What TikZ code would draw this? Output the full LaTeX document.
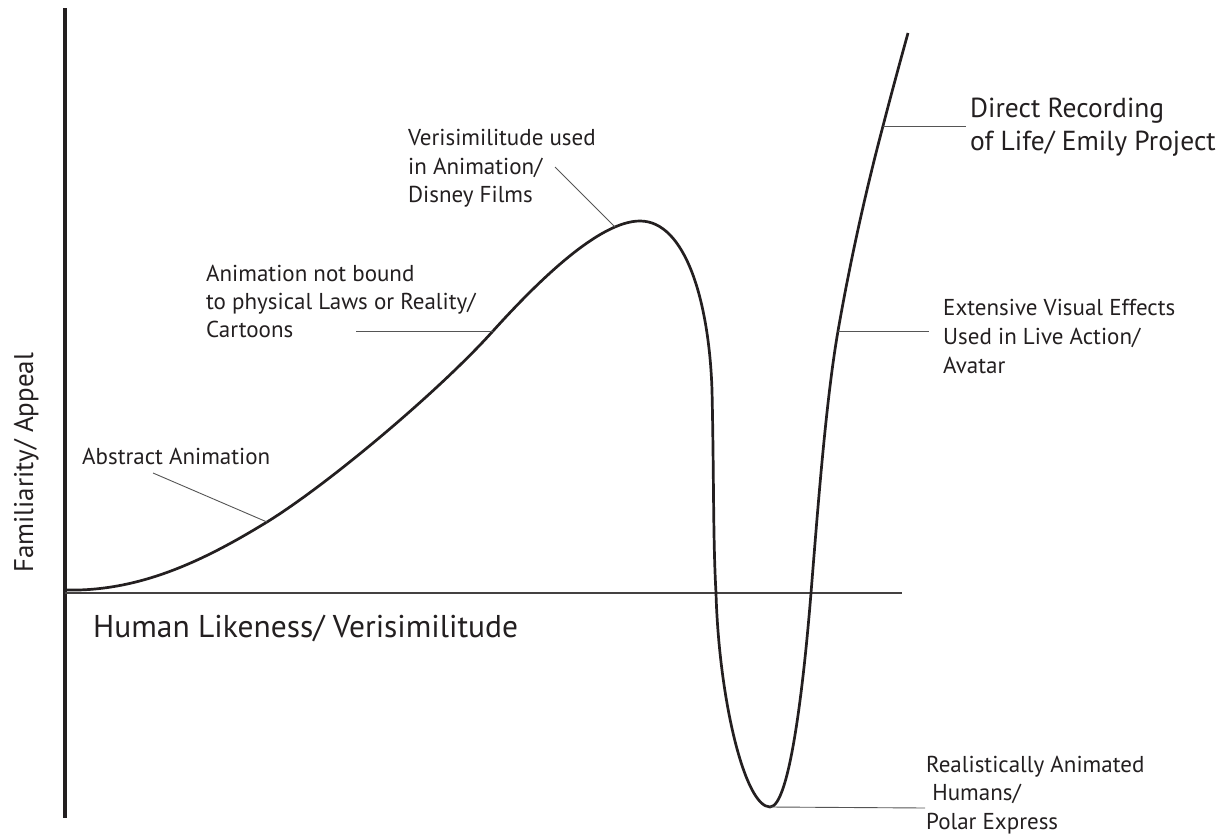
\documentclass[tikz,border=0pt]{standalone}
\usepackage{fontspec}
\setmainfont{PT Sans}
\definecolor{ink}{HTML}{231F20}
\definecolor{leadgray}{HTML}{555555}
\begin{document}
\begin{tikzpicture}[x=1bp,y=-1bp,
  lbl/.style={font=\fontsize{23bp}{28bp}\selectfont, anchor=base west, inner sep=0pt, text=ink},
  biglbl/.style={font=\fontsize{27.5bp}{32bp}\selectfont, anchor=base west, inner sep=0pt, text=ink},
  axislbl/.style={font=\fontsize{31.5bp}{36bp}\selectfont, anchor=base west, inner sep=0pt, text=ink},
  famlbl/.style={font=\fontsize{27bp}{32bp}\selectfont, anchor=base west, inner sep=0pt, text=ink, rotate=90},
  leader/.style={draw=leadgray, line width=0.9bp},
  curve/.style={draw=ink, line width=2.7bp, line join=round},
  yaxis/.style={draw=ink, line width=3.2bp},
  xaxis/.style={draw=ink!85, line width=1.8bp}]
\useasboundingbox (0,0) rectangle (1223,836);
% axes
\coordinate (ytop) at (65,8);
\coordinate (ybot) at (65,818);
\coordinate (xl) at (65,593);
\coordinate (xr) at (902,593);
\draw[yaxis] (ytop) -- (ybot);
\draw[xaxis] (xl) -- (xr);
% curve anchor points
\coordinate (c0) at (65,590);
\coordinate (cabs) at (267,522);
\coordinate (cnb) at (493,331);
\coordinate (cpk) at (640,221);
\coordinate (cdr) at (712,390);
\coordinate (cax) at (716,593);
\coordinate (cmin) at (770,807);
\coordinate (cax2) at (811,593);
\coordinate (cext) at (838,331);
\coordinate (cdir) at (883,126);
\coordinate (ctop) at (908,33);
\coordinate (cver) at (615,227);
\draw[curve] (c0) .. controls (140,592) and (205,560) .. (cabs)
  .. controls (330,483) and (440,390) .. (cnb)
  .. controls (540,279) and (600,221) .. (cpk)
  .. controls (685,221) and (709,300) .. (cdr)
  .. controls (714,480) and (713,540) .. (cax)
  .. controls (719,700) and (745,807) .. (cmin)
  .. controls (790,807) and (804,680) .. (cax2)
  .. controls (818,506) and (826,400) .. (cext)
  .. controls (850,262) and (866,190) .. (cdir)
  .. controls (891,95) and (900,62) .. (ctop);
% leader free ends
\coordinate (labs) at (153,473);
\coordinate (lnb) at (356,331);
\coordinate (lver) at (555,167);
\coordinate (ldir) at (966,126);
\coordinate (lext) at (929,331);
\coordinate (lreal) at (925,808);
\draw[leader] (labs) -- (cabs);
\draw[leader] (lnb) -- (cnb);
\draw[leader] (lver) -- (cver);
\draw[leader] (cdir) -- (ldir);
\draw[leader] (cext) -- (lext);
\draw[leader] (cmin) -- (lreal);
% labels
\node[lbl] (tabs) at (82,464) {Abstract Animation};
\node[lbl] (tnb1) at (206,281) {Animation not bound};
\node[lbl] (tnb2) at (206,309) {to physical Laws or Reality/};
\node[lbl] (tnb3) at (206,337) {Cartoons};
\node[lbl] (tve1) at (408,145) {Verisimilitude used};
\node[lbl] (tve2) at (408,174) {in Animation/};
\node[lbl] (tve3) at (408,202) {Disney Films};
\node[biglbl] (tdr1) at (970,117) {Direct Recording};
\node[biglbl] (tdr2) at (970,150) {of Life/ Emily Project};
\node[lbl] (tex1) at (943,315) {Extensive Visual Effects};
\node[lbl] (tex2) at (943,344) {Used in Live Action/};
\node[lbl] (tex3) at (943,373) {Avatar};
\node[lbl] (tre1) at (926,772) {Realistically Animated};
\node[lbl] (tre2) at (926,800) {\ Humans/};
\node[lbl] (tre3) at (926,829) {Polar Express};
\node[axislbl] (thl) at (93,637) {Human Likeness/ Verisimilitude};
\node[famlbl] (tfam) at (33,573) {Familiarity/ Appeal};
\end{tikzpicture}
\end{document}
